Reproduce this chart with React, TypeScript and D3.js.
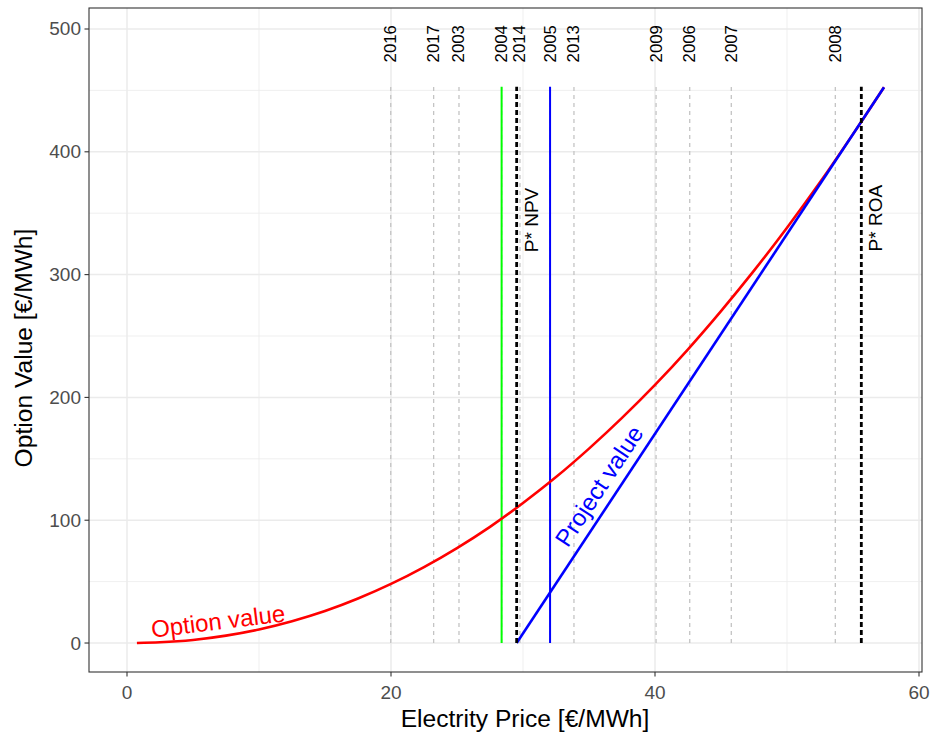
import React from "react";
import * as d3 from "d3";

const W = 949;
const H = 738;

// Option value curve
const priceGrid = [0.75, 2.5, 5, 7.5, 10, 12.5, 15, 17.5, 20, 22.5, 25, 27.5, 30, 32.5, 35, 37.5, 40, 42.5, 45, 47.5, 50, 52.5, 55, 55.63, 57.35];
const optionValue = [0, 0.6, 2.5, 6.0, 11.0, 17.7, 26.0, 36.2, 48.1, 61.8, 77.3, 94.6, 114.0, 135.1, 158.3, 183.3, 210.2, 239.2, 270.3, 303.2, 338.2, 375.2, 414.4, 424.5, 452.5];

// Project value line
const projectPrice = [29.52, 57.35];
const projectValue = [0, 452.5];

// Year price markers
const yearLabels = ["2016", "2017", "2003", "2004", "2014", "2005", "2013", "2009", "2006", "2007", "2008"];
const yearPrices = [19.98, 23.23, 25.15, 28.38, 29.77, 32.05, 33.86, 40.08, 42.63, 45.78, 53.66];

// Reference thresholds
const pStarNPV = 29.52;
const pStarROA = 55.63;
const greenPrice = 28.38;
const bluePrice = 32.05;
const lineTop = 453;
const labelY = 488;

const xTicks = [0, 20, 40, 60];
const xMinor = [10, 30, 50];
const yTicks = [0, 100, 200, 300, 400, 500];
const yMinor = [50, 150, 250, 350, 450];

const FONT = "'Liberation Sans', Arial, Helvetica, sans-serif";

export default function App() {
  const left = 89, right = 922, top = 8, bottom = 672;
  const x = d3.scaleLinear().domain([-2.879, 60.227]).range([left, right]);
  const y = d3.scaleLinear().domain([-23.6, 517.1]).range([bottom, top]);

  const optPts = priceGrid.map((p, i) => [p, optionValue[i]] as [number, number]);
  const optLine = d3
    .line<[number, number]>()
    .x((d) => x(d[0]))
    .y((d) => y(d[1]))
    .curve(d3.curveMonotoneX)(optPts) as string;

  const projPts = projectPrice.map((p, i) => [p, projectValue[i]] as [number, number]);
  const projLine = d3
    .line<[number, number]>()
    .x((d) => x(d[0]))
    .y((d) => y(d[1]))(projPts) as string;

  const projAngle =
    (Math.atan2(y(projectValue[1]) - y(projectValue[0]), x(projectPrice[1]) - x(projectPrice[0])) * 180) / Math.PI;

  const gridColor = "#EBEBEB";
  const axisColor = "#333333";
  const tickText = "#4D4D4D";

  const optLabel = { x: 6.9, y: 17.9 };
  const projLabel = { x: 35.76, y: 127.9 };

  return (
    <svg
      width={W}
      height={H}
      style={{ position: "absolute", left: 0, top: 0, background: "#fff" }}
      fontFamily={FONT}
    >
      <rect x={0} y={0} width={W} height={H} fill="#fff" />
      {/* grid */}
      {xMinor.map((v) => (
        <line key={"xm" + v} x1={x(v)} x2={x(v)} y1={top} y2={bottom} stroke={gridColor} strokeWidth={0.8} />
      ))}
      {yMinor.map((v) => (
        <line key={"ym" + v} x1={left} x2={right} y1={y(v)} y2={y(v)} stroke={gridColor} strokeWidth={0.8} />
      ))}
      {xTicks.map((v) => (
        <line key={"xg" + v} x1={x(v)} x2={x(v)} y1={top} y2={bottom} stroke={gridColor} strokeWidth={1.5} />
      ))}
      {yTicks.map((v) => (
        <line key={"yg" + v} x1={left} x2={right} y1={y(v)} y2={y(v)} stroke={gridColor} strokeWidth={1.5} />
      ))}

      {/* year lines */}
      {yearPrices.map((p, i) => (
        <line
          key={"yl" + i}
          x1={x(p)}
          x2={x(p)}
          y1={y(0)}
          y2={y(lineTop)}
          stroke="#C4C4C4"
          strokeWidth={1.3}
          strokeDasharray="4,4"
        />
      ))}
      {yearPrices.map((p, i) => (
        <text
          key={"yt" + i}
          transform={`translate(${x(p)},${y(labelY)}) rotate(-90)`}
          textAnchor="middle"
          dominantBaseline="central"
          fontSize={16.8}
          fill="#000"
        >
          {yearLabels[i]}
        </text>
      ))}

      {/* green & blue verticals */}
      <line x1={x(greenPrice)} x2={x(greenPrice)} y1={y(0)} y2={y(lineTop)} stroke="#00FF00" strokeWidth={2} />
      <line x1={x(bluePrice)} x2={x(bluePrice)} y1={y(0)} y2={y(lineTop)} stroke="#0000FF" strokeWidth={2} />

      {/* curves */}
      <path d={optLine} fill="none" stroke="#FF0000" strokeWidth={2.6} />
      <path d={projLine} fill="none" stroke="#0000FF" strokeWidth={2.6} />

      {/* thresholds */}
      <line x1={x(pStarNPV)} x2={x(pStarNPV)} y1={y(0)} y2={y(lineTop)} stroke="#000" strokeWidth={2.8} strokeDasharray="5,3" />
      <line x1={x(pStarROA)} x2={x(pStarROA)} y1={y(0)} y2={y(lineTop)} stroke="#000" strokeWidth={2.8} strokeDasharray="5,3" />
      <text
        transform={`translate(${x(30.66)},${y(344.5)}) rotate(-90)`}
        textAnchor="middle"
        dominantBaseline="central"
        fontSize={19}
        fill="#000"
      >
        P* NPV
      </text>
      <text
        transform={`translate(${x(56.67)},${y(346)}) rotate(-90)`}
        textAnchor="middle"
        dominantBaseline="central"
        fontSize={19}
        fill="#000"
      >
        P* ROA
      </text>

      {/* curve labels */}
      <text
        transform={`translate(${x(optLabel.x)},${y(optLabel.y)}) rotate(-7)`}
        textAnchor="middle"
        dominantBaseline="central"
        fontSize={24}
        fill="#FF0000"
      >
        Option value
      </text>
      <text
        transform={`translate(${x(projLabel.x)},${y(projLabel.y)}) rotate(${projAngle})`}
        textAnchor="middle"
        dominantBaseline="central"
        fontSize={24}
        fill="#0000FF"
      >
        Project value
      </text>

      {/* panel border */}
      <rect x={left} y={top} width={right - left} height={bottom - top} fill="none" stroke={axisColor} strokeWidth={1.1} />

      {/* axes ticks */}
      {xTicks.map((v) => (
        <g key={"xt" + v}>
          <line x1={x(v)} x2={x(v)} y1={bottom} y2={bottom + 4.5} stroke={axisColor} strokeWidth={1.1} />
          <text x={x(v)} y={bottom + 26.5} textAnchor="middle" fontSize={19} fill={tickText}>
            {v}
          </text>
        </g>
      ))}
      {yTicks.map((v) => (
        <g key={"ytk" + v}>
          <line x1={left - 4.5} x2={left} y1={y(v)} y2={y(v)} stroke={axisColor} strokeWidth={1.1} />
          <text x={left - 8} y={y(v)} textAnchor="end" dominantBaseline="central" fontSize={19} fill={tickText}>
            {v}
          </text>
        </g>
      ))}

      {/* axis titles */}
      <text x={525} y={727} textAnchor="middle" fontSize={24.6} fill="#000">
        Electrity Price [€/MWh]
      </text>
      <text
        transform={`translate(23,348) rotate(-90)`}
        textAnchor="middle"
        dominantBaseline="central"
        fontSize={24.6}
        fill="#000"
      >
        Option Value [€/MWh]
      </text>
    </svg>
  );
}
